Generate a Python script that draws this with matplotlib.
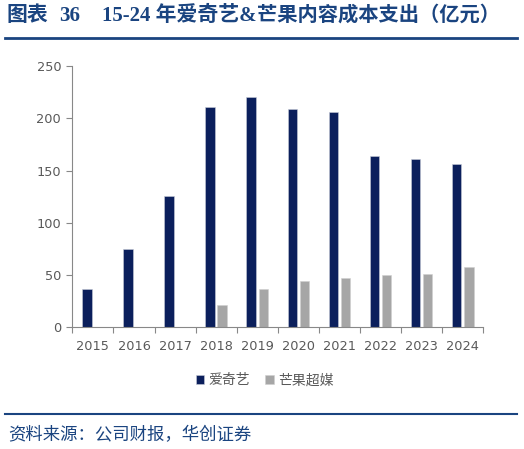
import matplotlib
matplotlib.use("Agg")
import matplotlib.pyplot as plt
from matplotlib.lines import Line2D
import numpy as np

plt.rcParams['font.family'] = ['Noto Sans CJK SC', 'DejaVu Sans']

years = ['2015', '2016', '2017', '2018', '2019', '2020', '2021', '2022', '2023', '2024']
iqiyi = [36.4, 74.9, 125.6, 210.5, 220.7, 208.6, 205.7, 164.2, 161.3, 156.6]
mango = [np.nan, np.nan, np.nan, 21.3, 36.6, 44.0, 46.9, 49.8, 51.3, 57.4]
series_names = ['爱奇艺', '芒果超媒']
title_parts = ['图表', '36', '15-24 年爱奇艺&', '芒果内容成本支出（亿元）']
source = '资料来源：公司财报，华创证券'

navy = '#0B1F5C'
gray = '#A6A6A6'
blue = '#1A4480'
tick_gray = '#595959'

W, H = 524, 449
fig = plt.figure(figsize=(W / 100, H / 100), dpi=100)
ax = fig.add_axes([72.3 / W, 1 - 327.3 / H, (483.3 - 72.3) / W, (327.3 - 66) / H])

x = np.arange(len(years))
w = 0.23
ax.bar(x - 0.147, iqiyi, width=w, color=navy, label=series_names[0], edgecolor='#C8CCD8', linewidth=0.4)
ax.bar(x + 0.147, mango, width=w, color=gray, label=series_names[1], edgecolor='#D0D0D0', linewidth=0.4)

ax.set_xlim(-0.5, len(years) - 0.5)
ax.set_ylim(0, 250)
ax.set_yticks(np.arange(0, 251, 50))
ax.set_xticks(x)
ax.set_xticklabels(years, family='DejaVu Sans')
for lab in ax.get_yticklabels():
    lab.set_family('DejaVu Sans')
ax.set_xticks(np.arange(-0.5, len(years), 1), minor=True)
ax.tick_params(axis='x', which='major', length=0, pad=9, labelsize=9.3, labelcolor=tick_gray)
ax.tick_params(axis='x', which='minor', length=4, color='#888888', width=0.8, direction='out')
ax.tick_params(axis='y', length=4, color='#888888', width=0.8, labelsize=9.3, labelcolor=tick_gray, pad=4)
for s in ['top', 'right']:
    ax.spines[s].set_visible(False)
for s in ['left', 'bottom']:
    ax.spines[s].set_color('#888888')
    ax.spines[s].set_linewidth(0.8)

leg = fig.legend(loc='center', bbox_to_anchor=(0.505, 0.153), ncol=2, frameon=False,
                 fontsize=10, handlelength=0.6, handleheight=0.6, handletextpad=0.3,
                 columnspacing=1.1, labelcolor=tick_gray)

tfam = ['Liberation Serif', 'Noto Sans CJK SC']
for xp, txt, fs in zip([7, 59, 102, 257], title_parts, [15, 15, 15, 14.6]):
    fig.text(xp / W, 1 - 16 / H, txt, fontsize=fs, fontweight='bold', color=blue,
             va='center', ha='left', family=tfam)
fig.add_artist(Line2D([5 / W, 517 / W], [1 - 38.3 / H, 1 - 38.3 / H], color=blue, linewidth=2,
                      transform=fig.transFigure))
fig.add_artist(Line2D([5 / W, 517 / W], [1 - 414.3 / H, 1 - 414.3 / H], color=blue, linewidth=1.5,
                      transform=fig.transFigure))
fig.text(8 / W, 1 - 435 / H, source, fontsize=12.5, color=blue, va='center', ha='left', style='italic')

fig.savefig('out.png', dpi=100)
